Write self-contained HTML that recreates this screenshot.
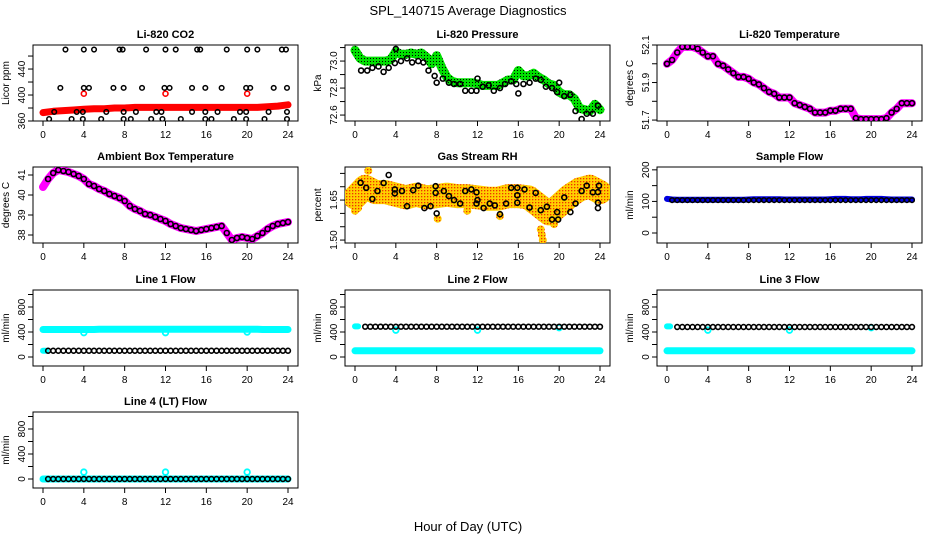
<!DOCTYPE html>
<html><head><meta charset="utf-8"><style>
html,body{margin:0;padding:0;background:#fff;}
svg{display:block;font-family:"Liberation Sans",sans-serif;}
</style></head><body>
<svg id="chart" width="936" height="540" viewBox="0 0 936 540" xmlns="http://www.w3.org/2000/svg">
<defs>
<pattern id="pgreen" width="3" height="3" patternUnits="userSpaceOnUse"><rect width="3" height="3" fill="#00e000"/><rect x="1" y="1" width="1" height="1" fill="#000"/></pattern>
<pattern id="porange" width="3" height="3" patternUnits="userSpaceOnUse"><rect width="3" height="3" fill="#ffd000"/><rect x="1" y="1" width="1.3" height="1.3" fill="#f03000"/></pattern>
</defs>
<text x="468" y="15" text-anchor="middle" font-size="13">SPL_140715  Average Diagnostics</text>
<text x="468" y="531" text-anchor="middle" font-size="13">Hour of Day (UTC)</text>
</svg>
<script>
// ---- data ----
const halfHours = []; for (let i = 0; i <= 48; i++) halfHours.push(i / 2);
const hours = [0,1,2,3,4,5,6,7,8,9,10,11,12,13,14,15,16,17,18,19,20,21,22,23,24];
const xTicks = [0,4,8,12,16,20,24];

const co2Red = [373,375,376,377,378,379,379,380,380,381,381,381,381,381,381,381,381,381,381,381,381,381,382,383,385];
const co2RedOutHours = [4,12,20];
const co2RedOutVals = [402,402,402];
const co2BlackHours = [2.2,4,5,7.5,7.8,10.1,12,13,15.1,15.4,18,20,21,23.4,23.8, 1.7,4,4.5,6.9,7.9,9.7,11.9,12.4,14.6,15.9,17.5,19.9,20.3,22.6,23.9, 1.1,3.3,3.9,6.2,7.9,9.1,11.1,11.6,14.6,15.9,17.1,19.3,19.9,22.1,23.9, 0.6,2.8,3.9,5.7,7.9,8.6,10.6,11.7,13.5,15.9,16.5,18.7,19.9,21.7,23.9];
const co2BlackVals = [470,470,470,470,470,470,470,470,470,470,470,470,470,470,470, 411,411,411,411,411,411,411,411,411,411,411,411,411,411,411, 374,374,374,374,374,374,374,374,374,374,374,374,374,374,374, 363,363,363,363,363,363,363,363,363,363,363,363,363,363,363];

const presGreen = [73.08,73.02,73.0,73.0,73.0,73.0,73.0,73.01,73.07,73.05,73.05,73.06,73.05,73.06,73.03,72.98,73.04,72.95,72.88,72.85,72.84,72.84,72.84,72.84,72.83,72.82,72.82,72.82,72.82,72.84,72.86,72.86,72.93,72.89,72.89,72.91,72.88,72.86,72.83,72.82,72.77,72.75,72.75,72.72,72.65,72.64,72.63,72.68,72.64];
const presBlackHours = [0.6,1.2,1.7,2.3,2.8,3.3,3.9,4.0,4.5,5.1,5.6,6.2,6.7,7.2,7.8,8.0,8.6,9.2,9.7,10.3,10.8,11.4,11.9,12.0,12.5,13.1,13.6,14.2,14.7,15.3,15.8,16.0,16.5,17.1,17.7,18.2,18.7,19.3,19.8,20.0,20.5,21.1,21.6,22.2,22.7,23.3,23.8];
const presBlackVals = [72.93,72.93,72.95,72.96,72.92,72.95,72.985,73.09,73.0,73.02,72.99,73.0,72.99,72.93,72.89,72.84,72.87,72.84,72.83,72.83,72.78,72.78,72.78,72.87,72.81,72.82,72.78,72.8,72.83,72.85,72.83,72.76,72.83,72.84,72.87,72.86,72.81,72.8,72.77,72.84,72.74,72.75,72.63,72.57,72.61,72.61,72.67];

const tempVals = [52.0,52.02,52.06,52.09,52.09,52.09,52.08,52.06,52.04,52.04,52.0,51.99,51.97,51.95,51.93,51.93,51.92,51.9,51.89,51.87,51.85,51.84,51.82,51.82,51.82,51.79,51.78,51.77,51.76,51.74,51.74,51.74,51.75,51.75,51.76,51.76,51.76,51.71,51.705,51.705,51.705,51.705,51.705,51.71,51.74,51.76,51.79,51.79,51.79];

const ambVals = [40.4,40.8,41.1,41.25,41.2,41.15,41.05,40.95,40.8,40.55,40.45,40.3,40.2,40.05,39.95,39.85,39.7,39.45,39.3,39.2,39.05,39.0,38.9,38.8,38.7,38.55,38.45,38.35,38.3,38.25,38.2,38.25,38.3,38.35,38.4,38.45,38.1,37.75,37.85,37.9,37.85,37.8,37.95,38.1,38.3,38.45,38.55,38.6,38.65];

const rhBand = [1.66,1.70,1.68,1.68,1.67,1.66,1.67,1.66,1.665,1.67,1.665,1.665,1.66,1.655,1.655,1.665,1.665,1.66,1.63,1.60,1.63,1.665,1.69,1.70,1.68];
const rhOutHours = [0,0.3,8.1,18.2,18.3,18.4,19.5,11,14.2,1.3];
const rhOutVals = [1.61,1.62,1.58,1.54,1.52,1.50,1.56,1.61,1.59,1.76];
const rhBlackHours = [0.55,1.1,1.7,2.2,2.8,3.3,3.9,3.9,4.6,5.1,5.7,6.2,6.8,7.4,7.9,7.9,8.0,8.7,9.2,9.7,10.3,10.8,11.4,11.9,11.9,12.0,12.6,13.2,13.7,14.2,14.8,15.3,15.9,15.9,15.9,16.6,17.1,17.7,18.2,18.8,19.3,19.8,19.9,20.5,21.1,21.6,22.2,22.7,23.3,23.8,23.8,23.8,23.9];
const rhBlackVals = [1.715,1.696,1.654,1.684,1.714,1.744,1.69,1.675,1.684,1.627,1.687,1.704,1.62,1.627,1.702,1.677,1.60,1.684,1.665,1.65,1.637,1.684,1.69,1.679,1.637,1.65,1.62,1.637,1.63,1.597,1.637,1.696,1.696,1.668,1.64,1.69,1.622,1.677,1.612,1.625,1.577,1.605,1.577,1.66,1.605,1.637,1.684,1.704,1.679,1.68,1.64,1.62,1.704];

const sampleBlue = [108,106,105,105,105,105,105,105,105,105,105,105,105,105,105,105,106,107,107,107,107,107,107,106,106,106,106,106,106,106,106,106,107,108,108,108,107,107,107,108,108,108,108,107,106,106,106,106,106];
const sampleBlack = [106,104,104,104,104,104,104,104,104,104,104,104,104,104,104,104,104,104,104,104,104,104,104,104,104,104,104,104,104,104,104,104,104,104,104,104,104,104,104,104,104,104,104,104,104,104,104,104,104];

const line1Cyan = [440,440,440,440,440,440,440,440,440,440,440,445,445,445,445,445,445,445,445,445,445,445,445,445,445,445,445,445,445,445,445,445,445,445,445,445,445,445,445,445,445,445,445,440,440,440,440,440,440];
const line1Black = [100,100,100,100,100,100,100,100,100,100,100,100,100,100,100,100,100,100,100,100,100,100,100,100,100,100,100,100,100,100,100,100,100,100,100,100,100,100,100,100,100,100,100,100,100,100,100,100,100];
const line2Cyan = [100,100,100,100,100,100,100,100,100,100,100,100,100,100,100,100,100,100,100,100,100,100,100,100,100,100,100,100,100,100,100,100,100,100,100,100,100,100,100,100,100,100,100,100,100,100,100,100,100];
const line2Black = [490,485,485,485,485,485,485,485,485,485,485,485,485,485,485,485,485,485,485,485,485,485,485,485,485,485,485,485,485,485,485,485,485,485,485,485,485,485,485,485,485,485,485,485,485,485,485,485,485];
const line3Cyan = line2Cyan.slice();
const line3Black = [490,480,480,480,480,480,480,480,480,480,480,480,480,480,480,480,480,480,480,480,480,480,480,480,480,480,480,480,480,480,480,480,480,480,480,480,480,480,480,480,480,480,480,480,480,480,480,480,480];
const line4Cyan = [0,0,0,0,0,0,0,0,0,0,0,0,0,0,0,0,0,0,0,0,0,0,0,0,0,0,0,0,0,0,0,0,0,0,0,0,0,0,0,0,0,0,0,0,0,0,0,0,0];
const line4Black = line4Cyan.slice();
const flowOutHours = [4,12,20];
const line1OutVals = [390,390,400];
const line2OutVals = [430,430,470];
const line3OutVals = [430,430,470];
const line4OutVals = [110,110,110];

// ---- drawing ----
const NS = "http://www.w3.org/2000/svg";
const svg = document.getElementById('chart');
const colLeft = [33,345,657], rowTop = [45,167,290,412], BW = 265, BH = 76;
function mk(tag, attrs, parent){ const e = document.createElementNS(NS, tag); for (const k in attrs) e.setAttribute(k, attrs[k]); (parent||svg).appendChild(e); return e; }

function panel(name, col, row, ymin, ymax, ticks, labels, title, ylab){
  const g = mk('g', {});
  
  
  const L = colLeft[col], T = rowTop[row];
  const xs = h => L + 10 + h * 245 / 24;
  const ys = v => T + BH - (v - ymin) / (ymax - ymin) * BH;
  const box = mk('rect', {x:L, y:T, width:BW, height:BH, fill:'none', stroke:'#000', 'stroke-width':1}, g);
  
  
  const t = mk('text', {x:L + BW/2, y:T - 7, 'text-anchor':'middle', 'font-size':11, 'font-weight':'bold'}, g);
  t.textContent = title;
  
  
  const xa = mk('g', {}, g);
  
  
  xTicks.forEach(h => {
    mk('line', {x1:xs(h), x2:xs(h), y1:T+BH, y2:T+BH+5, stroke:'#000'}, xa);
    const tx = mk('text', {x:xs(h), y:T+BH+17, 'text-anchor':'middle', 'font-size':10}, xa);
    tx.textContent = h;
  });
  const ya = mk('g', {}, g);
  
  
  ticks.forEach(v => mk('line', {x1:L-5, x2:L, y1:ys(v), y2:ys(v), stroke:'#000'}, ya));
  labels.forEach(v => {
    const tx = mk('text', {x:0, y:0, 'text-anchor':'middle', 'font-size':10, transform:`translate(${L-8},${ys(v)}) rotate(-90)`}, ya);
    tx.textContent = v;
  });
  const yl = mk('text', {x:0, y:0, 'text-anchor':'middle', 'font-size':10, transform:`translate(${L-24},${T+BH/2}) rotate(-90)`}, g);
  yl.textContent = ylab;
  
  
  const clip = mk('clipPath', {id:'c-'+name}, g);
  mk('rect', {x:L, y:T, width:BW, height:BH}, clip);
  const plot = mk('g', {'clip-path':`url(#c-${name})`}, g);
  return {xs, ys, g: plot};
}
function band(p, name, hs, vs, color, w){
  const pts = hs.map((h,i) => p.xs(h).toFixed(1) + ',' + p.ys(vs[i]).toFixed(1)).join(' ');
  const pl = mk('polyline', {points:pts, fill:'none', stroke:color, 'stroke-width':w, 'stroke-linejoin':'round', 'stroke-linecap':'round'}, p.g);
  
  
}
function dots(p, name, hs, vs, color, r, sw){
  const g = mk('g', {}, p.g);
  
  
  hs.forEach((h,i) => mk('circle', {cx:p.xs(h), cy:p.ys(vs[i]), r:r, fill:'none', stroke:color, 'stroke-width':sw}, g));
}
function fdots(p, name, hs, vs, color, r){
  const g = mk('g', {}, p.g);
  
  
  hs.forEach((h,i) => mk('circle', {cx:p.xs(h), cy:p.ys(vs[i]), r:r, fill:color}, g));
}

// CO2
let p = panel('co2', 0, 0, 360, 477, [360,380,400,420,440,460], [360,400,440], 'Li-820 CO2', 'Licor ppm');
band(p, 'co2-red-series', hours, co2Red, '#f00', 7);
dots(p, 'co2-red-outliers', co2RedOutHours, co2RedOutVals, '#f00', 2.5, 1.6);
dots(p, 'co2-black-series', co2BlackHours, co2BlackVals, '#000', 2.3, 1.5);

// Pressure
p = panel('pressure', 1, 0, 72.556, 73.119, [72.6,72.7,72.8,72.9,73.0,73.1], ['72.6','72.8','73.0'], 'Li-820 Pressure', 'kPa');
band(p, 'pressure-green-series', halfHours, presGreen, 'url(#pgreen)', 9);
dots(p, 'pressure-black-series', presBlackHours, presBlackVals, '#000', 2.5, 1.6);

// Temperature
p = panel('temperature', 2, 0, 51.695, 52.1, [51.7,51.8,51.9,52.0,52.1], ['51.7','51.9','52.1'], 'Li-820 Temperature', 'degrees C');
band(p, 'temperature-magenta-series', halfHours, tempVals, '#f0f', 8);
dots(p, 'temperature-black-series', halfHours, tempVals, '#000', 2.5, 1.6);

// Ambient
p = panel('ambient', 0, 1, 37.6, 41.4, [38,39,40,41], [38,39,40,41], 'Ambient Box Temperature', 'degrees C');
band(p, 'ambient-magenta-series', halfHours, ambVals, '#f0f', 8);
dots(p, 'ambient-black-series', halfHours.slice(1), ambVals.slice(1), '#000', 2.5, 1.6);

// RH
p = panel('rh', 1, 1, 1.489, 1.774, [1.50,1.55,1.60,1.65,1.70,1.75], ['1.50','1.65'], 'Gas Stream RH', 'percent');
band(p, 'rh-orange-series', hours, rhBand, 'url(#porange)', 24);
fdots(p, 'rh-orange-outliers', rhOutHours, rhOutVals, 'url(#porange)', 4);
dots(p, 'rh-black-series', rhBlackHours, rhBlackVals, '#000', 2.5, 1.6);

// Sample flow
p = panel('sample-flow', 2, 1, -31.7, 209, [0,50,100,150,200], [0,100,200], 'Sample Flow', 'ml/min');
band(p, 'sample-blue-series', halfHours, sampleBlue, '#0000e0', 6);
dots(p, 'sample-black-series', halfHours.slice(1), sampleBlack.slice(1), '#000', 2.3, 1.5);

const fT = [0,200,400,600,800,1000], fL = [0,400,800];
// Line 1
p = panel('line1-flow', 0, 2, -144, 1072, fT, fL, 'Line 1 Flow', 'ml/min');
band(p, 'line1-cyan-series', halfHours, line1Cyan, '#0ff', 7);
dots(p, 'line1-cyan-outliers', flowOutHours, line1OutVals, '#0ff', 2.8, 1.8);
band(p, 'line1-cyan-low', [0,0.3], [100,100], '#0ff', 6);
dots(p, 'line1-black-series', halfHours.slice(1), line1Black.slice(1), '#000', 2.4, 1.6);
// Line 2
p = panel('line2-flow', 1, 2, -144, 1072, fT, fL, 'Line 2 Flow', 'ml/min');
band(p, 'line2-cyan-series', halfHours, line2Cyan, '#0ff', 7);
dots(p, 'line2-cyan-outliers', flowOutHours, line2OutVals, '#0ff', 2.8, 1.8);
band(p, 'line2-cyan-high', [0,0.3], [490,490], '#0ff', 6);
dots(p, 'line2-black-series', halfHours.slice(2), line2Black.slice(2), '#000', 2.4, 1.6);
// Line 3
p = panel('line3-flow', 2, 2, -144, 1072, fT, fL, 'Line 3 Flow', 'ml/min');
band(p, 'line3-cyan-series', halfHours, line3Cyan, '#0ff', 7);
dots(p, 'line3-cyan-outliers', flowOutHours, line3OutVals, '#0ff', 2.8, 1.8);
band(p, 'line3-cyan-high', [0,0.3], [490,490], '#0ff', 6);
dots(p, 'line3-black-series', halfHours.slice(2), line3Black.slice(2), '#000', 2.4, 1.6);
// Line 4
p = panel('line4-flow', 0, 3, -144, 1072, fT, fL, 'Line 4 (LT) Flow', 'ml/min');
band(p, 'line4-cyan-series', halfHours, line4Cyan, '#0ff', 7);
dots(p, 'line4-cyan-outliers', flowOutHours, line4OutVals, '#0ff', 2.8, 1.8);
dots(p, 'line4-black-series', halfHours.slice(1), line4Black.slice(1), '#000', 2.4, 1.6);
</script>
</body></html>
